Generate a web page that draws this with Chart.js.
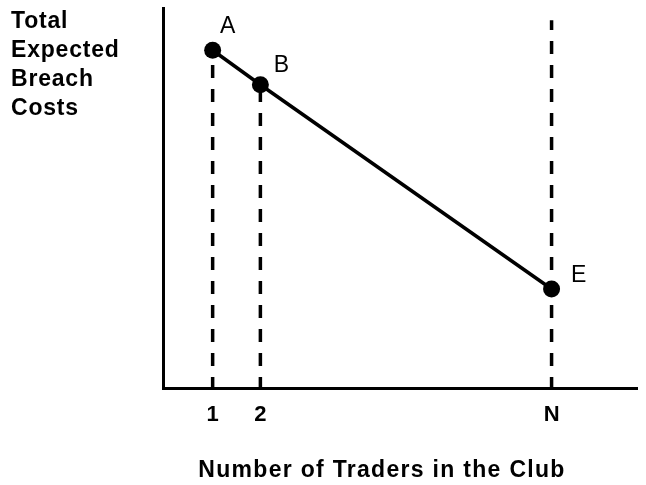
<!DOCTYPE html>
<html><head><meta charset="utf-8">
<script src="https://cdn.jsdelivr.net/npm/chart.js@4"></script>
<style>html,body{margin:0;padding:0;background:#fff}#wrap{width:646px;height:485px}</style>
</head><body><div id="wrap"><canvas id="c"></canvas></div>
<script>
// Data
const traders = [1, 2, 8.1];            // x positions of 1, 2, N
const tickLabels = ['1', '2', 'N'];
const costs = [89.0, 79.9, 26.1];       // total expected breach costs at A, B, E
const pointNames = ['A', 'B', 'E'];
const guideTops = [89.0, 79.9, 96.9];   // top of each dashed guide line
const yTitleLines = ['Total', 'Expected', 'Breach', 'Costs'];
const xTitle = 'Number of Traders in the Club';

const FONT = '"Liberation Sans", Arial, Helvetica, sans-serif';

const guideSets = traders.map((x, i) => ({
  data: [{x: x, y: 0}, {x: x, y: guideTops[i]}],
  borderColor: '#000', borderWidth: 3.5, borderDash: [13, 11], borderDashOffset: 2,
  borderCapStyle: 'butt',
  pointRadius: 0, fill: false, order: 2
}));

const mainSet = {
  data: traders.map((x, i) => ({x: x, y: costs[i]})),
  borderColor: '#000', backgroundColor: '#000', borderWidth: 3.5,
  pointRadius: 8.5, pointBackgroundColor: '#000', pointBorderWidth: 0,
  fill: false, order: 1
};

const labelOffsets = [[15, -24], [21, -19], [27, -13]];

const textPlugin = {
  id: 'texts',
  afterDraw(chart) {
    const ctx = chart.ctx;
    ctx.save();
    ctx.fillStyle = '#000';
    // point labels
    ctx.font = '23px ' + FONT;
    ctx.textAlign = 'center';
    ctx.textBaseline = 'middle';
    const meta = chart.getDatasetMeta(chart.data.datasets.length - 1);
    meta.data.forEach((p, i) => {
      ctx.fillText(pointNames[i], p.x + labelOffsets[i][0], p.y + labelOffsets[i][1]);
    });
    // y title
    ctx.font = 'bold 23px ' + FONT;
    if ('letterSpacing' in ctx) ctx.letterSpacing = '0.8px';
    ctx.textAlign = 'left';
    ctx.textBaseline = 'alphabetic';
    yTitleLines.forEach((t, i) => ctx.fillText(t, 11, 28 + i * 29));
    // x title
    ctx.font = 'bold 23px ' + FONT;
    if ('letterSpacing' in ctx) ctx.letterSpacing = '1.3px';
    ctx.textAlign = 'center';
    ctx.fillText(xTitle, 382, 477);
    ctx.restore();
  }
};

new Chart(document.getElementById('c'), {
  type: 'line',
  data: { datasets: [...guideSets, mainSet] },
  options: {
    responsive: true, maintainAspectRatio: false, animation: false,
    layout: { padding: { top: 5, right: 6, left: 0, bottom: 0 } },
    plugins: { legend: { display: false }, tooltip: { enabled: false } },
    elements: { line: { tension: 0 } },
    clip: false,
    scales: {
      x: {
        type: 'linear', min: -0.04, max: 9.9,
        afterBuildTicks: s => { s.ticks = traders.map(v => ({value: v})); },
        afterFit: s => { s.height = 97; },
        grid: { display: false, drawTicks: false },
        border: { display: true, color: '#000', width: 3 },
        ticks: {
          autoSkip: false, maxRotation: 0, padding: 14, color: '#000',
          font: { family: FONT, size: 22, weight: 'bold' },
          callback: (v, i) => tickLabels[i]
        }
      },
      y: {
        type: 'linear', min: 0, max: 100,
        afterFit: s => { s.width = 163; },
        grid: { display: false, drawTicks: false },
        border: { display: true, color: '#000', width: 3 },
        ticks: { display: false }
      }
    }
  },
  plugins: [textPlugin]
});
</script></body></html>
